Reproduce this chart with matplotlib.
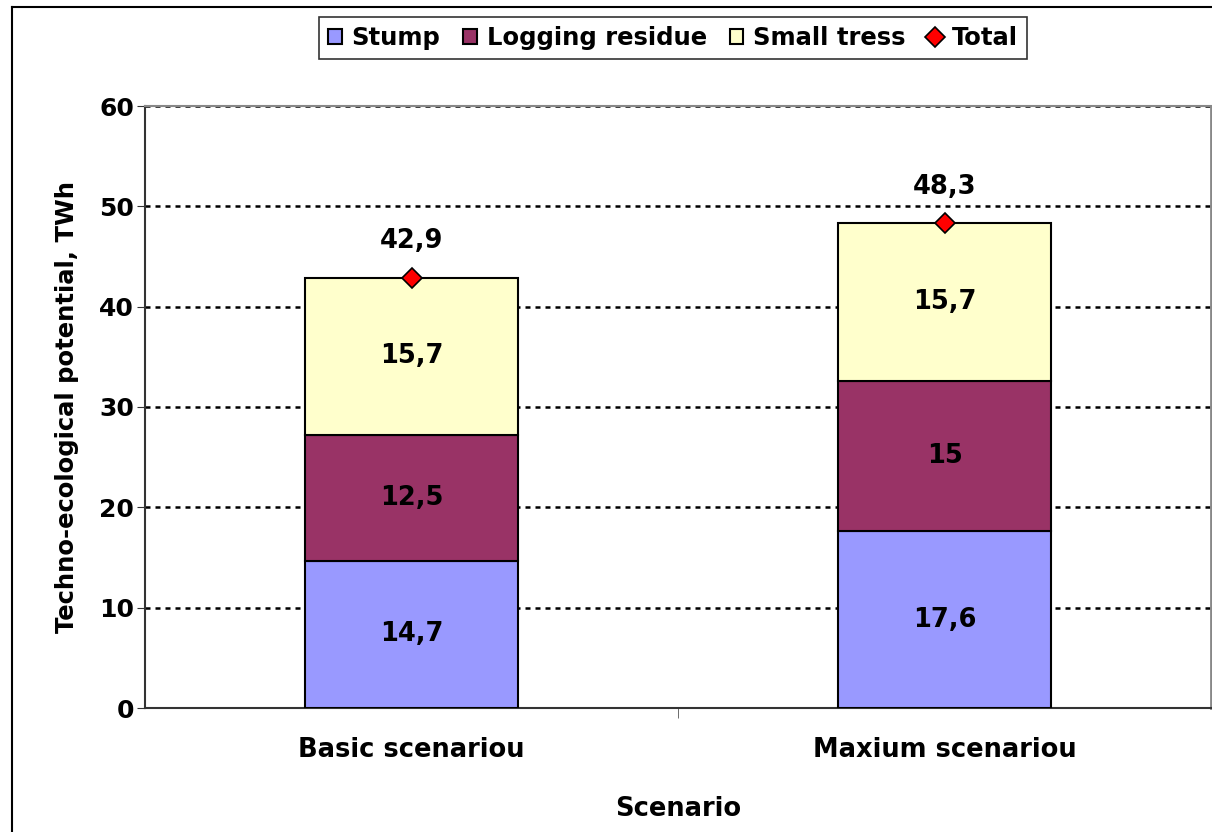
import numpy as np
import matplotlib
matplotlib.use('Agg')
import matplotlib.pyplot as plt
from matplotlib.lines import Line2D

scenarios = ['Basic scenariou', 'Maxium scenariou']
stump = [14.7, 17.6]
logging = [12.5, 15]
small = [15.7, 15.7]
total = [42.9, 48.3]
stump_lbl = ['14,7', '17,6']
logging_lbl = ['12,5', '15']
small_lbl = ['15,7', '15,7']
total_lbl = ['42,9', '48,3']

plt.rcParams['font.family'] = ['DejaVu Sans']
plt.rcParams['font.weight'] = 'bold'

fig = plt.figure(figsize=(12.12, 8.32), dpi=100)
ax = fig.add_axes([145/1212, 1-708/832, 1066/1212, 602/832])

x = np.arange(len(scenarios))
w = 0.4
stump = np.array(stump)
logging = np.array(logging)
small = np.array(small)

b1 = ax.bar(x, stump, w, color='#9999FF', edgecolor='black', lw=1.5, label='Stump', zorder=3)
b2 = ax.bar(x, logging, w, bottom=stump, color='#993366', edgecolor='black', lw=1.5, label='Logging residue', zorder=3)
b3 = ax.bar(x, small, w, bottom=stump+logging, color='#FFFFCC', edgecolor='black', lw=1.5, label='Small tress', zorder=3)
ln, = ax.plot(x, total, 'D', color='#FF0000', markeredgecolor='black', markeredgewidth=1.2,
              markersize=10, linestyle='none', label='Total', zorder=5)

fs = 18
dfs = 18.5
for i in range(len(x)):
    ax.text(x[i], stump[i]/2, stump_lbl[i], ha='center', va='center', fontsize=dfs, fontweight='bold', zorder=6)
    ax.text(x[i], stump[i] + logging[i]/2, logging_lbl[i], ha='center', va='center', fontsize=dfs, fontweight='bold', zorder=6)
    ax.text(x[i], stump[i] + logging[i] + small[i]/2, small_lbl[i], ha='center', va='center', fontsize=dfs, fontweight='bold', zorder=6)
    ax.text(x[i], total[i] + 3.6, total_lbl[i], ha='center', va='center', fontsize=dfs, fontweight='bold', zorder=6)

ax.set_xlim(-0.5, 1.5)
ax.set_ylim(0, 60)
ax.set_yticks(np.arange(0, 61, 10))
ax.set_xticks(x)
ax.set_xticklabels(scenarios, fontsize=fs + 0.5, fontweight='bold')
ax.set_xticks([0.5], minor=True)
ax.tick_params(axis='x', which='major', length=0, pad=21)
ax.tick_params(axis='x', which='minor', length=7, color='#555555')
ax.tick_params(axis='y', length=6, labelsize=fs, color='#333333', pad=2)
for t in ax.get_yticklabels():
    t.set_fontweight('bold')

ax.yaxis.grid(True, color='black', linestyle=(0, (2, 2)), lw=1.8, zorder=1)
ax.set_axisbelow(True)

ax.spines['left'].set_color('#333333')
ax.spines['bottom'].set_color('#333333')
ax.spines['left'].set_linewidth(1.5)
ax.spines['bottom'].set_linewidth(1.5)
ax.spines['top'].set_color('#888888')
ax.spines['right'].set_color('#888888')
ax.spines['top'].set_linewidth(1.5)
ax.spines['right'].set_linewidth(2)

ax.set_ylabel('Techno-ecological potential, TWh', fontsize=17.5, fontweight='bold', labelpad=14)
ax.set_xlabel('Scenario', fontsize=fs + 0.5, fontweight='bold', labelpad=24)

leg = fig.legend(handles=[b1, b2, b3, ln], loc='center', bbox_to_anchor=(673/1212, 1-38/832),
                 ncol=4, frameon=True, fancybox=False, handlelength=0.55, handleheight=0.6,
                 handletextpad=0.4, columnspacing=0.95, borderpad=0.38,
                 prop={'weight': 'bold', 'size': 17.5})
leg.get_frame().set_edgecolor('black')
leg.get_frame().set_linewidth(1.2)

# outer chart frame
fig.add_artist(Line2D([12/1212, 12/1212], [0, 1-7/832], transform=fig.transFigure, color='black', lw=1.5))
fig.add_artist(Line2D([12/1212, 1], [1-7/832, 1-7/832], transform=fig.transFigure, color='black', lw=1.5))

fig.savefig('out.png', dpi=100)
